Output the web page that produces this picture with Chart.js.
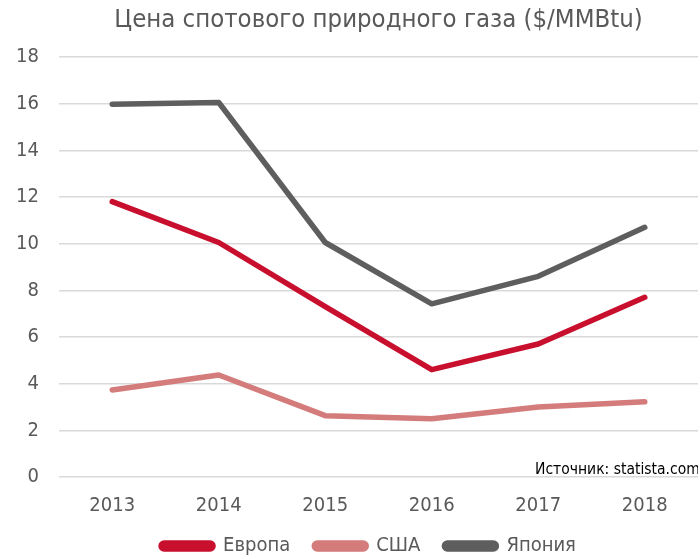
<!DOCTYPE html>
<html>
<head>
<meta charset="utf-8">
<script src="https://cdn.jsdelivr.net/npm/chart.js@4"></script>
<style>
  html, body { margin: 0; padding: 0; background: #fff; }
  #wrap { width: 698px; height: 557px; }
</style>
</head>
<body>
<div id="wrap"><canvas id="c"></canvas></div>
<script>
const years = ["2013", "2014", "2015", "2016", "2017", "2018"];
const europe = [11.8, 10.05, 7.3, 4.6, 5.7, 7.7];
const usa = [3.73, 4.37, 2.63, 2.5, 3.0, 3.22];
const japan = [15.98, 16.05, 10.05, 7.42, 8.6, 10.7];
const yTicks = [0, 2, 4, 6, 8, 10, 12, 14, 16, 18];
const chartTitle = "Цена спотового природного газа ($/MMBtu)";
const sourceText = "Источник: statista.com";

const FONT = "'DejaVu Sans Condensed', 'DejaVu Sans', sans-serif";

// title centred over the plot area, source note in its lower right corner
const extraText = {
  id: 'extraText',
  afterLayout(chart) {
    // original legend sits a bit right of the canvas centre
    if (chart.legend) chart.legend.left += 22;
  },
  afterDraw(chart) {
    const { ctx, chartArea } = chart;
    ctx.save();
    ctx.fillStyle = "#595959";
    ctx.font = "25.5px " + FONT;
    ctx.textAlign = "center";
    ctx.textBaseline = "middle";
    ctx.fillText(chartTitle, (chartArea.left + chartArea.right) / 2, 20);

    ctx.font = "15.5px " + FONT;
    ctx.fillStyle = "#000";
    ctx.textAlign = "left";
    ctx.textBaseline = "bottom";
    ctx.fillText(sourceText, chartArea.right - 163, chartArea.bottom + 1);
    ctx.restore();
  }
};

function line(label, data, color) {
  return {
    label: label,
    data: data,
    borderColor: color,
    backgroundColor: color,
    borderWidth: 5.5,
    pointRadius: 0,
    tension: 0,
    borderCapStyle: 'round',
    borderJoinStyle: 'round'
  };
}

new Chart(document.getElementById("c"), {
  type: 'line',
  data: {
    labels: years,
    datasets: [
      line("Европа", europe, "#c8102e"),
      line("США", usa, "#d47b7b"),
      line("Япония", japan, "#5e5e5e")
    ]
  },
  options: {
    responsive: true,
    maintainAspectRatio: false,
    animation: false,
    layout: { padding: { left: 17, right: 0, top: 57, bottom: -9 } },
    plugins: {
      title: { display: false },
      legend: {
        position: 'bottom',
        labels: {
          color: "#595959",
          font: { family: FONT, size: 20 },
          boxWidth: 52,
          boxHeight: 6,
          useBorderRadius: true,
          borderRadius: 3,
          padding: 24
        }
      },
      tooltip: { enabled: false }
    },
    scales: {
      x: {
        offset: true,
        grid: { display: false },
        border: { display: false },
        ticks: { color: "#595959", font: { family: FONT, size: 20 }, padding: 9 },
        afterFit(axis) { axis.height = 35; }
      },
      y: {
        min: 0,
        max: 18,
        afterBuildTicks(axis) { axis.ticks = yTicks.map(v => ({ value: v })); },
        grid: { color: "#d9d9d9", lineWidth: 1.5, drawTicks: false },
        border: { display: false },
        ticks: { color: "#595959", font: { family: FONT, size: 20 }, padding: 20 },
        afterFit(axis) { axis.width = 42; }
      }
    }
  },
  plugins: [extraText]
});
</script>
</body>
</html>
